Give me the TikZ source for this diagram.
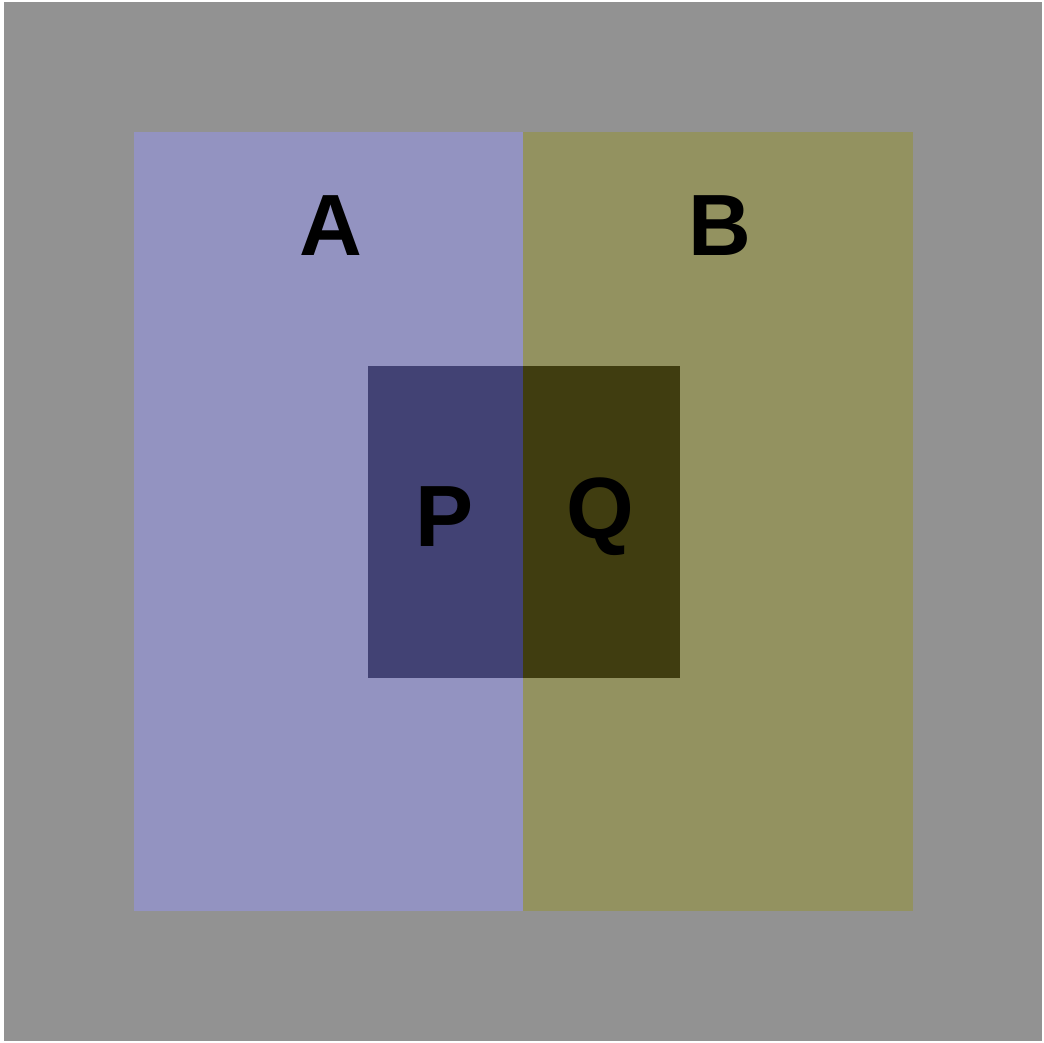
\documentclass[tikz,border=0pt]{standalone}
\usepackage{fontspec}
\setmainfont{Liberation Sans}
\definecolor{bggray}{HTML}{929292}
\definecolor{acol}{HTML}{9393C1}
\definecolor{bcol}{HTML}{939260}
\definecolor{pcol}{HTML}{424274}
\definecolor{qcol}{HTML}{403D10}
\begin{document}
\begin{tikzpicture}[x=1pt,y=-1pt,
  region/.style={inner sep=0pt,outer sep=0pt},
  lbl/.style={font=\fontsize{87}{87}\selectfont\bfseries,inner sep=0pt}]
\useasboundingbox (0,0) rectangle (1044,1043);
\fill[white] (0,0) rectangle (1044,1043);
\fill[bggray] (4,2) rectangle (1042,1041);
\node[region,fill=acol,minimum width=389pt,minimum height=779pt,anchor=north west] (A) at (134,132) {};
\node[region,fill=bcol,minimum width=390pt,minimum height=779pt,anchor=north west] (B) at (523,132) {};
\node[region,fill=pcol,minimum width=155pt,minimum height=312pt,anchor=north west] (P) at (368,366) {};
\node[region,fill=qcol,minimum width=157pt,minimum height=312pt,anchor=north west] (Q) at (523,366) {};
\node[lbl] (la) at (331,226) {A};
\node[lbl] (lb) at (720,226) {B};
\node[lbl] (lp) at (445,517) {P};
\node[lbl] (lq) at (600,517) {Q};
\end{tikzpicture}
\end{document}
